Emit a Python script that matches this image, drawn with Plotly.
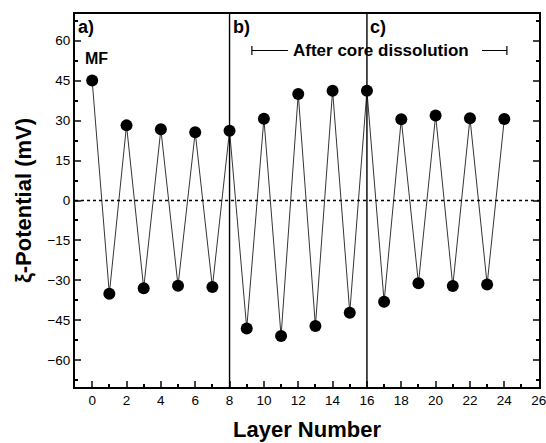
import plotly.graph_objects as go

layers = list(range(25))
zeta = [45, -35, 28.2, -32.9, 26.7, -32, 25.6, -32.5, 26.2, -48, 30.7, -50.9,
        40, -47.1, 41.2, -42.1, 41.2, -38, 30.5, -31.1, 31.9, -32.1, 30.9, -31.5, 30.6]
x_ticks = list(range(0, 27, 2))
y_ticks = [-60, -45, -30, -15, 0, 15, 30, 45, 60]
dividers = [8, 16]
bracket_x = [9.3, 24.15]
bracket_inner = [11.4, 22.7]
bracket_y = 56.3

FONT = "Liberation Sans, Arial, sans-serif"

fig = go.Figure()
fig.add_trace(go.Scatter(
    x=layers, y=zeta, mode="lines+markers",
    line=dict(color="black", width=0.8),
    marker=dict(color="black", size=12, symbol="circle"),
    showlegend=False, cliponaxis=False))

# zero dotted line
fig.add_shape(type="line", xref="paper", yref="y", x0=0, x1=1, y0=0, y1=0,
              line=dict(color="black", width=1.5, dash="dot"))
for d in dividers:
    fig.add_shape(type="line", xref="x", yref="paper", x0=d, x1=d, y0=0, y1=1,
                  line=dict(color="black", width=1.4))

# bracket
fig.add_shape(type="line", xref="x", yref="y", x0=bracket_x[0], x1=bracket_inner[0],
              y0=bracket_y, y1=bracket_y, line=dict(color="black", width=1))
fig.add_shape(type="line", xref="x", yref="y", x0=bracket_inner[1], x1=bracket_x[1],
              y0=bracket_y, y1=bracket_y, line=dict(color="black", width=1))
for bx in bracket_x:
    fig.add_shape(type="line", xref="x", yref="y", x0=bx, x1=bx,
                  y0=bracket_y - 1.7, y1=bracket_y + 1.7, line=dict(color="black", width=1.2))
fig.add_annotation(x=16.8, y=bracket_y, text="<b>After core dissolution</b>",
                   showarrow=False, font=dict(family=FONT, size=17, color="black"))

for txt, xx in [("a)", -1), ("b)", 8), ("c)", 16)]:
    fig.add_annotation(x=xx, y=1, xref="x", yref="paper", text="<b>" + txt + "</b>",
                       showarrow=False, xanchor="left", yanchor="top", xshift=1, yshift=-1,
                       font=dict(family=FONT, size=18, color="black"))
fig.add_annotation(x=0.25, y=53.3, text="<b>MF</b>", showarrow=False,
                   font=dict(family=FONT, size=16, color="black"))

fig.update_layout(
    width=546, height=443,
    margin=dict(l=75, r=7, t=14, b=56),
    paper_bgcolor="white", plot_bgcolor="white",
    font=dict(family=FONT, size=13.5, color="black"),
    xaxis=dict(range=[-1, 26.02], tickvals=x_ticks, ticks="inside", ticklen=6,
               tickwidth=1.5, showgrid=False, zeroline=False, showline=True,
               linecolor="black", linewidth=2, mirror=True, automargin=False,
               ticklabeloverflow="allow",
               minor=dict(dtick=1, ticks="inside", ticklen=3, tickwidth=1.5, tickcolor="black"),
               title=dict(text="<b>Layer Number</b>", font=dict(size=22), standoff=14)),
    yaxis=dict(range=[-70, 70], tickvals=y_ticks, ticks="inside", ticklen=6,
               tickwidth=1.5, showgrid=False, zeroline=False, showline=True,
               linecolor="black", linewidth=2, mirror="ticks", automargin=False,
               minor=dict(dtick=7.5, tick0=0, ticks="inside", ticklen=3, tickwidth=1.5, tickcolor="black"),
               title=dict(text="<b>ξ-Potential (mV)</b>", font=dict(size=22), standoff=10)),
)

fig.write_html("out.html", config={"displayModeBar": False},
               post_script="document.body.style.margin='0';")
